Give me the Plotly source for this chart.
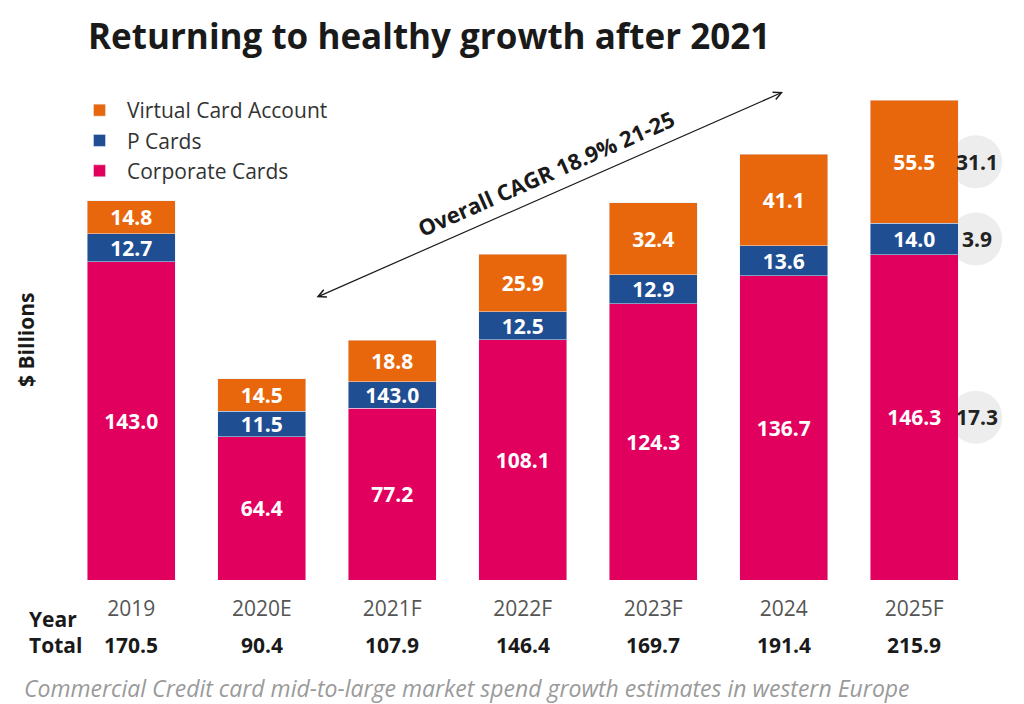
import plotly.graph_objects as go

years = ["2019", "2020E", "2021F", "2022F", "2023F", "2024", "2025F"]
corporate = [143.0, 64.4, 77.2, 108.1, 124.3, 136.7, 146.3]
pcards = [12.7, 11.5, 11.9, 12.5, 12.9, 13.6, 14.0]
pcards_labels = ["12.7", "11.5", "143.0", "12.5", "12.9", "13.6", "14.0"]
virtual = [14.8, 14.5, 18.8, 25.9, 32.4, 41.1, 55.5]
totals = ["170.5", "90.4", "107.9", "146.4", "169.7", "191.4", "215.9"]
growth_2025 = ["17.3", "3.9", "31.1"]  # corporate, pcards, virtual

FONT = "Open Sans"
C_ORANGE = "#E8670C"
C_BLUE = "#1F4F92"
C_PINK = "#E2005F"
DARK = "#1a1a1a"

fig = go.Figure()
common = dict(width=0.674, textposition="inside", insidetextanchor="middle",
              textangle=0, textfont=dict(family=FONT, size=21, color="white"),
              hoverinfo="skip")
fig.add_trace(go.Bar(name="Corporate Cards", x=years, y=corporate,
                     text=[f"<b>{v:.1f}</b>" for v in corporate], marker_color=C_PINK, **common))
fig.add_trace(go.Bar(name="P Cards", x=years, y=pcards,
                     text=[f"<b>{t}</b>" for t in pcards_labels], marker_color=C_BLUE, **common))
fig.add_trace(go.Bar(name="Virtual Card Account", x=years, y=virtual,
                     text=[f"<b>{v:.1f}</b>" for v in virtual], marker_color=C_ORANGE, **common))

L, R, T, B = 66, 10, 60, 124
W, H = 1024, 704
pw = W - L - R
ph = H - T - B


def px(x):
    return (x - L) / pw


def py(y):
    return (H - B - y) / ph


annotations = []
shapes = []

# 2025F growth circles
last = len(years) - 1
mids = [corporate[last] / 2,
        corporate[last] + pcards[last] / 2,
        corporate[last] + pcards[last] + virtual[last] / 2]
for mid, lab in zip(mids, growth_2025):
    shapes.append(dict(type="circle", xref="x", yref="y", xsizemode="pixel", ysizemode="pixel",
                       xanchor=last, yanchor=mid, x0=35, x1=88, y0=-26.5, y1=26.5,
                       fillcolor="#EDEDED", line=dict(width=0), layer="below"))
    annotations.append(dict(x=last, y=mid, xref="x", yref="y", xshift=63, text=f"<b>{lab}</b>",
                            showarrow=False, xanchor="center", yanchor="middle",
                            font=dict(family=FONT, size=21, color="#222222")))

# totals row
for i, t in enumerate(totals):
    annotations.append(dict(x=i, y=py(645), xref="x", yref="paper", text=f"<b>{t}</b>",
                            showarrow=False, xanchor="center", yanchor="middle",
                            font=dict(family=FONT, size=21, color=DARK)))

annotations += [
    dict(x=px(27), y=py(619), xref="paper", yref="paper", text="<b>Year</b>", showarrow=False,
         xanchor="left", yanchor="middle", font=dict(family=FONT, size=21, color=DARK)),
    dict(x=px(27), y=py(645), xref="paper", yref="paper", text="<b>Total</b>", showarrow=False,
         xanchor="left", yanchor="middle", font=dict(family=FONT, size=21, color=DARK)),
    dict(x=px(22), y=py(688), xref="paper", yref="paper",
         text="<i>Commercial Credit card mid-to-large market spend growth estimates in western Europe</i>",
         showarrow=False, xanchor="left", yanchor="middle",
         font=dict(family=FONT, size=23, color="#9a9a9a")),
    dict(x=px(26), y=py(340), xref="paper", yref="paper", text="<b>$ Billions</b>", showarrow=False,
         textangle=-90, xanchor="center", yanchor="middle",
         font=dict(family=FONT, size=21, color=DARK)),
    # double-headed CAGR arrow
    dict(x=px(783), y=py(92), xref="paper", yref="paper", ax=315 - 783, ay=298 - 92,
         axref="pixel", ayref="pixel", text="", showarrow=True, arrowside="end+start",
         arrowhead=5, startarrowhead=5, arrowsize=1.3, startarrowsize=1.3, arrowwidth=1.2,
         arrowcolor=DARK, standoff=0, startstandoff=0),
    dict(x=px(546), y=py(173), xref="paper", yref="paper", text="<b>Overall CAGR 18.9% 21-25</b>",
         showarrow=False, textangle=-23.8, xanchor="center", yanchor="middle",
         font=dict(family=FONT, size=22, color=DARK)),
]

fig.update_layout(
    width=W, height=H,
    margin=dict(l=L, r=R, t=T, b=B),
    barmode="stack",
    paper_bgcolor="white", plot_bgcolor="white",
    font=dict(family=FONT, color=DARK),
    title=dict(text="<b>Returning to healthy growth after 2021</b>", x=88 / W, xanchor="left",
               xref="container", y=1 - 37 / H, yref="container", yanchor="middle",
               font=dict(family=FONT, size=35, color=DARK)),
    legend=dict(x=px(72), y=py(90), xanchor="left", yanchor="top", traceorder="reversed",
                itemwidth=45,
                font=dict(family=FONT, size=21, color="#333333"), bgcolor="rgba(0,0,0,0)"),
    xaxis=dict(type="category", range=[-0.5, -0.5 + pw / 130.5], showgrid=False, zeroline=False,
               showline=False, ticks="", ticklabelstandoff=14,
               tickfont=dict(family=FONT, size=21, color="#555555")),
    yaxis=dict(range=[0, ph / 2.224], showgrid=False, zeroline=False, showline=False,
               showticklabels=False, ticks=""),
    uniformtext=dict(minsize=21, mode="show"),
    annotations=annotations,
    shapes=shapes,
    showlegend=True,
)

fig.write_html("out.html")
